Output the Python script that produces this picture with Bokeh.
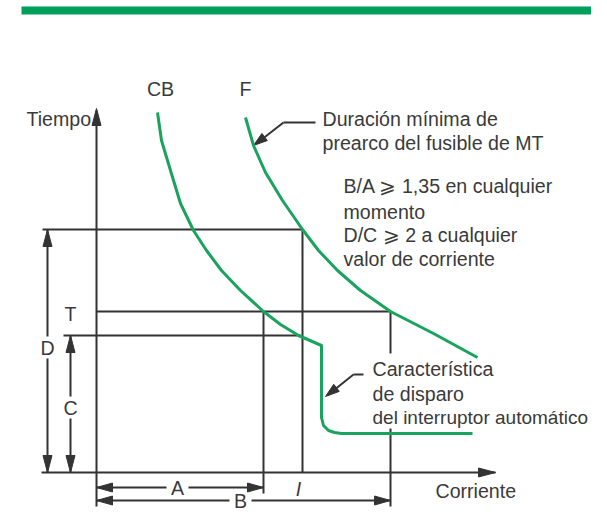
from bokeh.plotting import figure
from bokeh.models import Range1d
from bokeh.core.properties import value
from bokeh.embed import file_html
from bokeh.resources import INLINE
import math

# ---- curve data (diagram coordinates, y grows downward) ----
f_x = [245, 253, 265, 282, 302, 318, 337, 360, 390, 433, 477]
f_y = [117, 145, 172, 200, 229, 250, 270, 290, 311, 333, 357]

cb_x = [157, 161, 170, 180, 193, 206, 221, 240, 263, 280, 298, 321, 321, 323, 328, 334, 341, 472]
cb_y = [112, 140, 170, 203, 230, 250, 270, 290, 311, 324, 335, 345, 417, 425, 430, 432, 433, 433]

# reference levels
x_axis_y = 472
y_axis_x = 96
D_level = 229
T_level = 311
C_level = 335
A_x = 263
I_x = 302
B_x = 390
A_row = 487
B_row = 500

# guide segments
seg_x0 = [y_axis_x, 41, 42, y_axis_x, 63, I_x, A_x, B_x, B_x, y_axis_x,
          47, 47, 70, 70, y_axis_x, 188, y_axis_x, 251, 283, 283, 353, 353]
seg_y0 = [472, x_axis_y, D_level, T_level, C_level, D_level, T_level, T_level, 428, 472,
          D_level, 358, C_level, 418, A_row, A_row, B_row, B_row, 122, 122, 374, 374]
seg_x1 = [y_axis_x, 495, I_x, B_x, 300, I_x, A_x, B_x, B_x, y_axis_x,
          47, 47, 70, 70, 166, A_x, 229, B_x, 315, 256, 363, 328]
seg_y1 = [110, x_axis_y, D_level, T_level, C_level, 472, 493, 353, 506, 506,
          336, 472, 396, 472, A_row, A_row, B_row, B_row, 122, 143, 374, 394]

# arrow heads: tip position and direction of travel
head_x = [96, 495, 47, 47, 70, 70, 96, 263, 96, 390, 253, 325]
head_y = [108, 472, 229, 472, 335, 472, A_row, A_row, B_row, B_row, 145, 396]
head_dx = [0, 1, 0, 0, 0, 0, -1, 1, -1, 1, -30, -28]
head_dy = [-1, 0, -1, 1, -1, 1, 0, 0, 0, 0, 23, 22]
head_len = [17, 17, 17, 17, 17, 17, 16, 16, 16, 16, 14, 14]

# labels
lab_text = ["Tiempo", "CB", "F", "Duración mínima de", "prearco del fusible de MT",
            "B/A \u2a7e 1,35 en cualquier", "momento", "D/C \u2a7e 2 a cualquier", "valor de corriente",
            "Característica", "de disparo",
            "T", "D", "C", "A", "B", "Corriente"]
lab_x = [26, 160, 245, 322, 322, 343, 343, 343, 343, 372, 372, 70, 47, 70, 177, 240, 435]
lab_y = [118, 88, 88, 118, 142, 185, 211, 234, 258, 368, 393, 313, 347, 407, A_row, B_row, 490]
lab_align = ["left", "center", "center", "left", "left", "left", "left", "left", "left",
             "left", "left", "center", "center", "center", "center", "center", "left"]

dark = "#333333"
txt = "#3a3a3a"
green = "#1aa35e"
bar_green = "#009f5b"

p = figure(width=591, height=512, output_backend="svg", toolbar_location=None,
           x_range=Range1d(0, 591), y_range=Range1d(512, 0),
           x_axis_type=None, y_axis_type=None, min_border=0)
p.outline_line_color = None
p.background_fill_color = "white"
p.border_fill_color = "white"
p.grid.visible = False

# top bar
p.quad(left=[21], right=[598], top=[6], bottom=[14], fill_color=bar_green, line_color=None)

# guide lines
p.segment(x0=seg_x0, y0=seg_y0, x1=seg_x1, y1=seg_y1, line_color=dark, line_width=2)

# arrow heads
xs, ys = [], []
for tx, ty, dx, dy, L in zip(head_x, head_y, head_dx, head_dy, head_len):
    n = math.hypot(dx, dy)
    ux, uy = dx / n, dy / n
    bx, by = tx - L * ux, ty - L * uy
    hw = 4.5
    xs.append([tx, bx - hw * uy, bx + hw * uy])
    ys.append([ty, by + hw * ux, by - hw * ux])
p.patches(xs=xs, ys=ys, fill_color=dark, line_color=dark, line_width=1)

# curves
p.line(f_x, f_y, line_color=green, line_width=3, line_join="round")
p.line(cb_x, cb_y, line_color=green, line_width=3, line_join="round")

# labels
fnt = value("Liberation Sans")
for align in ("left", "center"):
    idx = [i for i, a in enumerate(lab_align) if a == align]
    p.text(x=[lab_x[i] for i in idx], y=[lab_y[i] for i in idx], text=[lab_text[i] for i in idx],
           text_font=fnt, text_font_size="19.6px", text_color=txt,
           text_align=align, text_baseline="middle")

p.text(x=[372], y=[417], text=["del interruptor automático"], text_font=fnt,
       text_font_size="19px", text_color=txt, text_align="left", text_baseline="middle")

p.text(x=[298], y=[488], text=["I"], text_font=fnt, text_font_size="19.6px",
       text_font_style="italic", text_color=txt, text_align="center", text_baseline="middle")

open("out.html", "w").write(file_html(p, INLINE))
